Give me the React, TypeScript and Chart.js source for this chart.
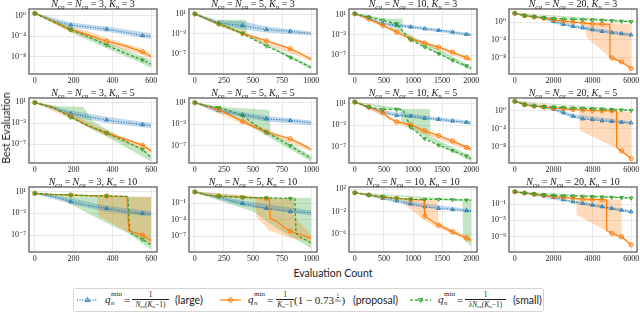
import React, { useEffect, useRef } from 'react';
import { Chart, registerables } from 'chart.js';
Chart.register(...registerables);

// Mean curves: [evaluation count, log10(best evaluation)]
// Bands: [evaluation count, log10(lower), log10(upper)]
type Pt = [number, number];
type Bd = [number, number, number];

const N_VALUES = [3, 5, 10, 20];
const K_VALUES = [3, 5, 10];
const X_MAX = [600, 1000, 2000, 6000];
const X_TICKS = [[0, 200, 400, 600], [0, 250, 500, 750, 1000], [0, 500, 1000, 1500, 2000], [0, 2000, 4000, 6000]];
const MARK_EVERY = [185, 205, 240, 500];
const Y_RANGE = [
  [[-11.3, 1.3], [-11.2, 2.1], [-10.7, 2.08], [-11.75, 2.97]],
  [[-10.6, 1.77], [-10.2, 1.86], [-10.0, 2.05], [-11.55, 2.73]],
  [[-10.1, 1.83], [-9.9, 2.0], [-9.2, 2.43], [-12.75, 3.17]],
];
const Y_TICKS = [
  [[0, -4, -8], [1, -3, -7], [1, -3, -7], [0, -4, -8]],
  [[1, -3, -7], [1, -3, -7], [1, -3, -7], [0, -4, -8]],
  [[1, -3, -7], [-1, -4, -7], [2, -2, -6], [-1, -5, -9]],
];

// ---------- K = 3 ----------
const n3k3Blue: Pt[] = [[0, 0.45], [92, -0.9], [185, -1.8], [277, -2.2], [370, -2.6], [462, -3.2], [555, -3.85], [600, -4.0]];
const n3k3Orange: Pt[] = [[0, 0.45], [92, -1.0], [185, -2.7], [277, -3.7], [370, -4.95], [462, -5.8], [555, -7.0], [600, -7.9]];
const n3k3Green: Pt[] = [[0, 0.45], [92, -1.1], [185, -2.7], [277, -4.1], [370, -5.7], [462, -7.2], [555, -8.6], [600, -9.4]];
const n3k3BlueBand: Bd[] = [[0, 0.35, 0.55], [185, -2.3, -1.3], [370, -3.1, -2.1], [600, -4.5, -3.4]];
const n3k3OrangeBand: Bd[] = [[0, 0.35, 0.55], [185, -3.2, -2.2], [277, -4.4, -3.0], [370, -5.5, -4.3], [555, -7.6, -6.4], [600, -8.5, -7.3]];
const n3k3GreenBand: Bd[] = [[0, 0.35, 0.55], [185, -3.2, -2.2], [370, -6.3, -5.1], [555, -9.3, -7.9], [600, -10.2, -8.7]];

const n5k3Blue: Pt[] = [[0, 1.1], [100, 0.2], [205, -0.75], [310, -1.05], [410, -1.3], [510, -1.7], [615, -2.1], [720, -2.3], [820, -2.45], [910, -2.7], [1000, -2.9]];
const n5k3Orange: Pt[] = [[0, 1.1], [100, 0.1], [205, -0.95], [310, -1.9], [410, -2.9], [510, -3.6], [615, -4.4], [720, -5.2], [820, -6.0], [910, -7.0], [1000, -8.2]];
const n5k3Green: Pt[] = [[0, 1.1], [100, 0.1], [205, -0.9], [310, -1.9], [410, -2.9], [510, -4.2], [615, -5.5], [720, -6.6], [820, -7.8], [910, -8.8], [1000, -9.9]];
const n5k3BlueBand: Bd[] = [[0, 0.9, 1.3], [205, -1.3, -0.2], [410, -2.0, -0.4], [615, -2.7, -1.5], [1000, -3.3, -2.5]];
const n5k3OrangeBand: Bd[] = [[0, 0.9, 1.3], [410, -3.2, -2.6], [1000, -8.6, -7.8]];
const n5k3GreenBand: Bd[] = [[0, 0.9, 1.3], [195, -1.2, -0.6], [205, -1.5, -0.1], [440, -3.3, -0.1], [450, -3.4, -2.9], [1000, -10.3, -9.5]];

const n10k3Blue: Pt[] = [[0, 1.15], [240, 0.35], [480, -0.8], [720, -1.1], [960, -1.45], [1200, -1.8], [1440, -2.1], [1680, -2.45], [1920, -2.9], [2000, -3.0]];
const n10k3Orange: Pt[] = [[0, 1.15], [240, 0.15], [480, -1.15], [720, -2.5], [960, -3.8], [1200, -4.6], [1440, -5.4], [1680, -6.4], [1920, -7.5], [2000, -7.9]];
const n10k3Green: Pt[] = [[0, 1.15], [240, 0.5], [480, -0.2], [720, -0.8], [830, -2.4], [960, -4.0], [1200, -5.4], [1440, -6.7], [1680, -8.0], [1920, -9.1], [2000, -9.6]];
const n10k3BlueBand: Bd[] = [[0, 1.0, 1.3], [480, -1.1, -0.5], [1000, -1.8, -1.1], [2000, -3.3, -2.7]];
const n10k3OrangeBand: Bd[] = [[0, 1.0, 1.3], [480, -1.4, -0.9], [1000, -4.2, -3.6], [2000, -8.3, -7.5]];
const n10k3GreenBand: Bd[] = [[0, 1.0, 1.3], [590, -0.5, 0.1], [600, -2.0, 0.2], [820, -2.9, 0.2], [830, -3.3, -2.3], [2000, -10.0, -9.2]];

const n20k3Green: Pt[] = [[0, 2.0], [500, 1.45], [1000, 1.2], [1500, 1.0], [2000, 0.8], [2500, 0.7], [3000, 0.65], [3500, 0.55], [4000, 0.5], [4500, 0.4], [5000, 0.3], [5500, 0.2], [6000, 0.1]];
const n20k3Blue: Pt[] = [[0, 2.0], [500, 1.45], [1000, 1.2], [1500, 0.9], [2000, 0.15], [2500, -0.5], [3000, -1.0], [3500, -1.3], [4000, -1.7], [4500, -2.1], [5000, -2.4], [5500, -2.6], [6000, -2.9]];
const n20k3Orange: Pt[] = [[0, 2.0], [500, 1.45], [1000, 1.15], [1500, 0.9], [2000, 0.5], [2500, 0.2], [3000, 0.0], [3500, -0.2], [4000, -0.4], [4500, -0.45], [4900, -0.5], [4910, -7.9], [5000, -8.1], [5500, -9.0], [6000, -10.5]];
const n20k3BlueBand: Bd[] = [[0, 1.9, 2.1], [1500, 0.7, 1.1], [2000, -0.3, 0.5], [4000, -2.1, -1.3], [6000, -3.3, -2.5]];
const n20k3OrangeBand: Bd[] = [[0, 1.9, 2.1], [3600, -0.4, 0.0], [3700, -3.4, 0.0], [4900, -8.0, -0.2], [6000, -10.6, -0.4]];
const n20k3GreenBand: Bd[] = [[0, 1.9, 2.1], [6000, -0.1, 0.3]];

// ---------- K = 5 ----------
const n3k5Blue: Pt[] = [[0, 0.9], [92, 0.0], [185, -1.2], [277, -1.8], [370, -2.4], [462, -2.9], [555, -3.3], [600, -3.5]];
const n3k5Orange: Pt[] = [[0, 0.9], [92, 0.0], [185, -1.7], [277, -3.6], [370, -4.9], [462, -6.0], [555, -7.2], [600, -8.3]];
const n3k5Green: Pt[] = [[0, 0.9], [92, 0.0], [185, -1.9], [277, -3.5], [370, -4.9], [462, -6.4], [555, -8.0], [600, -9.6]];
const n3k5BlueBand: Bd[] = [[0, 0.8, 1.0], [185, -1.7, -0.6], [370, -3.0, -1.8], [600, -4.0, -3.0]];
const n3k5OrangeBand: Bd[] = [[0, 0.8, 1.0], [185, -2.2, -1.3], [370, -5.4, -4.4], [600, -8.8, -7.8]];
const n3k5GreenBand: Bd[] = [[0, 0.8, 1.0], [130, -0.6, 0.2], [250, -3.3, 0.1], [300, -4.3, -2.6], [370, -5.6, -4.2], [600, -10.3, -9.0]];

const n5k5Blue: Pt[] = [[0, 1.0], [100, 0.3], [205, -0.45], [310, -0.9], [410, -1.25], [510, -1.6], [615, -2.0], [720, -2.15], [820, -2.3], [910, -2.5], [1000, -2.75]];
const n5k5Orange: Pt[] = [[0, 1.0], [100, 0.4], [205, -0.25], [310, -1.4], [410, -2.5], [510, -3.5], [615, -4.5], [720, -5.1], [820, -5.7], [910, -6.6], [1000, -7.7]];
const n5k5Green: Pt[] = [[0, 1.0], [100, 0.4], [205, 0.1], [310, -0.6], [410, -1.4], [510, -3.0], [615, -4.5], [720, -5.8], [820, -7.0], [910, -8.2], [1000, -9.35]];
const n5k5BlueBand: Bd[] = [[0, 0.9, 1.1], [205, -0.9, 0.0], [615, -2.5, -1.5], [1000, -3.2, -2.3]];
const n5k5OrangeBand: Bd[] = [[0, 0.9, 1.1], [410, -2.9, -2.1], [1000, -8.1, -7.3]];
const n5k5GreenBand: Bd[] = [[0, 0.9, 1.1], [205, -0.2, 0.3], [360, -2.0, 0.0], [640, -5.4, -0.3], [650, -5.6, -4.4], [1000, -9.9, -8.8]];

const n10k5Blue: Pt[] = [[0, 1.3], [240, 0.37], [480, -0.57], [720, -1.2], [960, -1.3], [1200, -1.7], [1440, -1.9], [1680, -2.2], [1920, -2.45], [2000, -2.6]];
const n10k5Orange: Pt[] = [[0, 1.3], [240, 0.37], [480, -0.6], [600, -1.7], [720, -2.4], [960, -2.9], [1200, -4.0], [1440, -4.9], [1680, -5.9], [1920, -7.1], [2000, -7.5]];
const n10k5Green: Pt[] = [[0, 1.3], [240, 0.37], [480, -0.07], [720, -0.07], [830, -0.1], [960, -3.4], [1200, -5.5], [1440, -6.7], [1680, -7.7], [1920, -8.7], [2000, -9.2]];
const n10k5BlueBand: Bd[] = [[0, 1.2, 1.4], [480, -1.0, -0.2], [1000, -1.7, -0.9], [2000, -2.9, -2.2]];
const n10k5OrangeBand: Bd[] = [[0, 1.2, 1.4], [720, -2.7, -2.0], [2000, -7.9, -7.1]];
const n10k5GreenBand: Bd[] = [[0, 1.2, 1.4], [790, -0.4, 0.2], [800, -2.5, 0.0], [1290, -5.8, 0.0], [1300, -5.9, -5.1], [2000, -9.7, -8.7]];

const n20k5Green: Pt[] = [[0, 2.0], [500, 1.26], [1000, 0.96], [1500, 0.85], [2000, 0.74], [2500, 0.63], [3000, 0.52], [3500, 0.45], [4000, 0.37], [4500, 0.28], [5000, 0.2], [5500, 0.1], [6000, 0.0]];
const n20k5Blue: Pt[] = [[0, 2.0], [500, 1.26], [1000, 0.96], [1500, 0.7], [2000, 0.3], [2500, -0.5], [3000, -1.26], [3500, -1.85], [4000, -2.0], [4500, -2.3], [5000, -2.44], [5500, -2.6], [6000, -2.73]];
const n20k5Orange: Pt[] = [[0, 2.0], [500, 1.26], [1000, 0.96], [1500, 0.75], [2000, 0.52], [2500, 0.35], [3000, 0.2], [3500, 0.1], [4000, 0.0], [4500, -0.05], [5000, -0.1], [5240, -0.15], [5250, -8.15], [5500, -8.9], [6000, -10.6]];
const n20k5BlueBand: Bd[] = [[0, 1.9, 2.1], [2000, 0.0, 0.6], [3000, -1.7, -0.8], [6000, -3.1, -2.4]];
const n20k5OrangeBand: Bd[] = [[0, 1.9, 2.1], [3300, 0.0, 0.3], [3360, -4.45, 0.0], [5250, -8.3, -0.2], [6000, -10.7, -0.3]];
const n20k5GreenBand: Bd[] = [[0, 1.9, 2.1], [6000, -0.15, 0.15]];

// ---------- K = 10 ----------
const n3k10Blue: Pt[] = [[0, 0.67], [92, 0.1], [185, -0.87], [277, -1.6], [370, -2.1], [462, -2.7], [555, -3.0], [600, -3.1]];
const n3k10Orange: Pt[] = [[0, 0.67], [92, 0.45], [185, 0.36], [277, 0.25], [370, 0.17], [462, 0.1], [475, 0.05], [485, -6.2], [555, -7.0], [600, -8.0]];
const n3k10Green: Pt[] = [[0, 0.67], [92, 0.45], [185, 0.36], [277, 0.25], [370, 0.17], [462, 0.1], [480, 0.05], [490, -6.5], [555, -7.8], [600, -8.8]];
const n3k10BlueBand: Bd[] = [[0, 0.6, 0.75], [185, -1.3, -0.2], [370, -2.7, -1.6], [600, -3.6, -2.6]];
const n3k10OrangeBand: Bd[] = [[0, 0.6, 0.75], [320, 0.0, 0.3], [330, -3.5, 0.1], [480, -6.5, 0.0], [600, -8.6, 0.0]];
const n3k10GreenBand: Bd[] = [[0, 0.6, 0.75], [150, -0.5, 0.5], [200, -1.6, 0.4], [370, -4.8, 0.2], [480, -6.6, 0.1], [600, -9.7, 0.0]];

const n5k10Blue: Pt[] = [[0, 1.1], [100, 0.6], [205, 0.2], [310, -0.5], [410, -1.0], [510, -1.5], [615, -1.9], [720, -2.2], [820, -2.5], [910, -2.6], [1000, -2.7]];
const n5k10Orange: Pt[] = [[0, 1.1], [100, 0.5], [205, 0.34], [310, 0.25], [410, 0.1], [510, 0.0], [615, -0.1], [640, -0.15], [650, -3.75], [720, -4.5], [760, -5.3], [820, -6.1], [910, -6.7], [1000, -7.4]];
const n5k10Green: Pt[] = [[0, 1.1], [100, 0.5], [205, 0.34], [310, 0.2], [410, 0.1], [510, 0.05], [615, 0.0], [720, -0.05], [820, -0.1], [860, -0.15], [870, -6.5], [910, -7.2], [1000, -8.3]];
const n5k10BlueBand: Bd[] = [[0, 1.0, 1.2], [410, -1.5, -0.5], [1000, -3.2, -2.3]];
const n5k10OrangeBand: Bd[] = [[0, 1.0, 1.2], [520, 0.0, 0.3], [530, -3.5, 0.1], [640, -6.0, 0.0], [850, -7.5, 0.0], [860, -7.5, -3.6], [1000, -8.0, -6.8]];
const n5k10GreenBand: Bd[] = [[0, 1.0, 1.2], [500, -2.5, 0.2], [700, -5.5, 0.1], [1000, -9.2, 0.0]];

const n10k10Green: Pt[] = [[0, 1.4], [240, 1.0], [480, 0.7], [720, 0.4], [960, 0.2], [1200, 0.2], [1440, 0.2], [1680, 0.15], [1920, 0.1], [2000, 0.1]];
const n10k10Blue: Pt[] = [[0, 1.4], [240, 1.0], [480, 0.4], [720, -0.03], [960, -0.6], [1200, -1.1], [1440, -1.4], [1680, -1.6], [1920, -1.8], [2000, -1.85]];
const n10k10Orange: Pt[] = [[0, 1.4], [240, 1.0], [480, 0.6], [720, 0.4], [960, 0.2], [1190, 0.1], [1200, -2.8], [1440, -4.4], [1680, -5.6], [1920, -6.7], [2000, -7.1]];
const n10k10BlueBand: Bd[] = [[0, 1.3, 1.5], [720, -0.4, 0.3], [1000, -1.0, -0.2], [2000, -2.1, -1.6]];
const n10k10OrangeBand: Bd[] = [[0, 1.3, 1.5], [820, 0.3, 0.5], [830, -0.5, 0.4], [1200, -3.5, 0.2], [1430, -5.0, 0.2], [1440, -4.8, -4.0], [2000, -7.5, -6.7]];
const n10k10GreenBand: Bd[] = [[0, 1.3, 1.5], [1850, -0.1, 0.25], [1860, -6.9, 0.2], [2000, -8.2, 0.2]];

const n20k10Green: Pt[] = [[0, 2.0], [500, 1.7], [1000, 1.45], [1500, 1.25], [2000, 1.1], [2500, 1.0], [3000, 0.96], [3500, 0.88], [4000, 0.8], [4500, 0.72], [5000, 0.64], [5500, 0.55], [6000, 0.47]];
const n20k10Blue: Pt[] = [[0, 2.0], [500, 1.7], [1000, 1.4], [1500, 1.1], [2000, 0.64], [2500, 0.1], [3000, -0.44], [3500, -0.85], [4000, -1.25], [4500, -1.65], [5000, -2.06], [5500, -2.5], [6000, -2.9]];
const n20k10Orange: Pt[] = [[0, 2.0], [500, 1.7], [1000, 1.4], [1500, 1.1], [2000, 0.8], [2500, 0.6], [3000, 0.4], [3500, 0.25], [4000, 0.15], [4500, 0.05], [4730, 0.0], [4740, -7.5], [5000, -8.2], [5500, -9.0], [6000, -11.0]];
const n20k10BlueBand: Bd[] = [[0, 1.9, 2.1], [3000, -0.8, -0.1], [6000, -3.3, -2.5]];
const n20k10OrangeBand: Bd[] = [[0, 1.9, 2.1], [3180, 0.3, 0.5], [3190, -3.7, 0.3], [4740, -7.6, 0.1], [5500, -9.8, 0.1], [5510, -9.4, -8.6], [6000, -11.3, -10.6]];
const n20k10GreenBand: Bd[] = [[0, 1.9, 2.1], [6000, 0.3, 0.65]];

const PANELS = [
  [
    [n3k3Blue, n3k3Orange, n3k3Green, n3k3BlueBand, n3k3OrangeBand, n3k3GreenBand],
    [n5k3Blue, n5k3Orange, n5k3Green, n5k3BlueBand, n5k3OrangeBand, n5k3GreenBand],
    [n10k3Blue, n10k3Orange, n10k3Green, n10k3BlueBand, n10k3OrangeBand, n10k3GreenBand],
    [n20k3Blue, n20k3Orange, n20k3Green, n20k3BlueBand, n20k3OrangeBand, n20k3GreenBand],
  ],
  [
    [n3k5Blue, n3k5Orange, n3k5Green, n3k5BlueBand, n3k5OrangeBand, n3k5GreenBand],
    [n5k5Blue, n5k5Orange, n5k5Green, n5k5BlueBand, n5k5OrangeBand, n5k5GreenBand],
    [n10k5Blue, n10k5Orange, n10k5Green, n10k5BlueBand, n10k5OrangeBand, n10k5GreenBand],
    [n20k5Blue, n20k5Orange, n20k5Green, n20k5BlueBand, n20k5OrangeBand, n20k5GreenBand],
  ],
  [
    [n3k10Blue, n3k10Orange, n3k10Green, n3k10BlueBand, n3k10OrangeBand, n3k10GreenBand],
    [n5k10Blue, n5k10Orange, n5k10Green, n5k10BlueBand, n5k10OrangeBand, n5k10GreenBand],
    [n10k10Blue, n10k10Orange, n10k10Green, n10k10BlueBand, n10k10OrangeBand, n10k10GreenBand],
    [n20k10Blue, n20k10Orange, n20k10Green, n20k10BlueBand, n20k10OrangeBand, n20k10GreenBand],
  ],
];

// ---------- styles ----------
const BLUE = [31, 119, 180];
const ORANGE = [255, 127, 14];
const GREEN = [44, 160, 44];
const rgba = (c: number[], a: number) => `rgba(${c[0]},${c[1]},${c[2]},${a})`;
const MATH = '"Liberation Serif", "DejaVu Serif", serif';
const SANS = 'Lato, "DejaVu Sans", sans-serif';
const TXT = '#222';

const COL_LEFT = [29, 189, 349, 509];
const ROW_TOP = [9, 98, 187];
const PLOT_W = 128;
const PLOT_H = 65;
const AXIS_W = 28;
const AXIS_H = 14;
const PAD_TOP = 9;
const PAD_RIGHT = 4;

const SUP: Record<string, string> = { '0': '⁰', '1': '¹', '2': '²', '3': '³', '4': '⁴', '5': '⁵', '6': '⁶', '7': '⁷', '8': '⁸', '9': '⁹', '-': '⁻' };
const supStr = (n: number) => String(n).split('').map((c) => SUP[c]).join('');

const framePlugin = {
  id: 'frame',
  afterDraw(chart: any) {
    const { ctx, chartArea: a } = chart;
    ctx.save();
    ctx.strokeStyle = '#5e5e5e';
    ctx.lineWidth = 1.3;
    ctx.strokeRect(a.left, a.top, a.right - a.left, a.bottom - a.top);
    ctx.restore();
  },
};

function makeTitlePlugin(nco: number, kn: number) {
  return {
    id: 'panelTitle',
    afterDraw(chart: any) {
      const { ctx, chartArea: a } = chart;
      const segs: [string, string][] = [
        ['N', 'i'], ['co', 's'], [' = ', 'r'], ['N', 'i'], ['ca', 's'], [` = ${nco}, `, 'r'],
        ['K', 'i'], ['n', 's'], [` = ${kn}`, 'r'],
      ];
      const font = (k: string) =>
        k === 'i' ? `italic 10px ${MATH}` : k === 's' ? `italic 7px ${MATH}` : `10px ${MATH}`;
      ctx.save();
      let total = 0;
      const widths = segs.map(([t, k]) => {
        ctx.font = font(k);
        const w = ctx.measureText(t).width;
        total += w;
        return w;
      });
      let x = (a.left + a.right) / 2 - total / 2;
      const y = a.top - 2;
      ctx.fillStyle = TXT;
      ctx.textAlign = 'left';
      ctx.textBaseline = 'alphabetic';
      segs.forEach(([t, k], i) => {
        ctx.font = font(k);
        ctx.fillText(t, x, k === 's' ? y + 2 : y);
        x += widths[i];
      });
      ctx.restore();
    },
  };
}

function Panel({ row, col }: { row: number; col: number }) {
  const ref = useRef<HTMLCanvasElement | null>(null);
  useEffect(() => {
    if (!ref.current) return;
    const [blue, orange, green, blueBand, orangeBand, greenBand] = PANELS[row][col] as any[];
    const xmax = X_MAX[col];
    const step = MARK_EVERY[col];
    const toData = (pts: Pt[]) => pts.map(([x, e]) => ({ x, y: Math.pow(10, e) }));
    const radius = (c: any) => (c.raw && c.raw.x % step === 0 ? 2.2 : 0);
    const line = (pts: Pt[], color: number[], style: string, rot: number, dash: number[]) => ({
      data: toData(pts),
      borderColor: rgba(color, 1),
      borderWidth: 1.25,
      borderDash: dash,
      pointStyle: style,
      pointRotation: rot,
      pointRadius: radius,
      pointHoverRadius: 0,
      pointBackgroundColor: rgba(color, 0.3),
      pointBorderColor: rgba(color, 1),
      pointBorderWidth: 0.85,
      fill: false,
    });
    const band = (b: Bd[], color: number[]) => [
      { data: b.map(([x, lo]) => ({ x, y: Math.pow(10, lo) })), borderColor: 'transparent', borderWidth: 0, pointRadius: 0, fill: false },
      { data: b.map(([x, , hi]) => ({ x, y: Math.pow(10, hi) })), borderColor: 'transparent', borderWidth: 0, pointRadius: 0, fill: '-1', backgroundColor: rgba(color, 0.28) },
    ];
    const datasets: any[] = [
      line(green, GREEN, 'triangle', 180, [3, 2]),
      line(orange, ORANGE, 'circle', 0, []),
      line(blue, BLUE, 'triangle', 0, [1, 1.6]),
      ...band(blueBand, BLUE),
      ...band(orangeBand, ORANGE),
      ...band(greenBand, GREEN),
    ];
    const [ymin, ymax] = Y_RANGE[row][col];
    const yt = Y_TICKS[row][col];
    const tickFont = { family: MATH, size: 8 };
    const grid = { color: '#e4e4e4', lineWidth: 0.8, drawTicks: false };
    const chart = new Chart(ref.current, {
      type: 'line',
      data: { datasets },
      options: {
        animation: false,
        responsive: false,
        events: [],
        layout: { padding: { top: PAD_TOP, right: PAD_RIGHT, left: 0, bottom: 0 } },
        plugins: { legend: { display: false }, tooltip: { enabled: false } },
        scales: {
          x: {
            type: 'linear',
            min: -0.05 * xmax,
            max: 1.05 * xmax,
            afterBuildTicks: (s: any) => { s.ticks = X_TICKS[col].map((v) => ({ value: v })); },
            afterFit: (s: any) => { s.height = AXIS_H; s.paddingLeft = 0; s.paddingRight = 0; },
            ticks: { font: tickFont, color: TXT, padding: 2, maxRotation: 0, autoSkip: false, callback: (v: any) => String(v) },
            grid,
            border: { display: false },
          },
          y: {
            type: 'logarithmic',
            min: Math.pow(10, ymin),
            max: Math.pow(10, ymax),
            afterBuildTicks: (s: any) => { s.ticks = yt.map((e) => ({ value: Math.pow(10, e) })); },
            afterFit: (s: any) => { s.width = AXIS_W; s.paddingTop = 0; s.paddingBottom = 0; },
            ticks: { font: tickFont, color: TXT, padding: 3, autoSkip: false, callback: (v: any) => '10' + supStr(Math.round(Math.log10(v))) },
            grid,
            border: { display: false },
          },
        },
      } as any,
      plugins: [framePlugin, makeTitlePlugin(N_VALUES[col], K_VALUES[row])],
    });
    return () => chart.destroy();
  }, [row, col]);
  return (
    <canvas
      ref={ref}
      width={AXIS_W + PLOT_W + PAD_RIGHT}
      height={PAD_TOP + PLOT_H + AXIS_H}
      style={{ position: 'absolute', left: COL_LEFT[col] - AXIS_W, top: ROW_TOP[row] - PAD_TOP }}
    />
  );
}

const abs = (left: number, top: number, extra: any = {}) => ({ position: 'absolute' as const, left, top, lineHeight: 1, whiteSpace: 'nowrap' as const, color: TXT, ...extra });

function Q({ left }: { left: number }) {
  return (
    <div style={abs(left, 290, { fontFamily: MATH })}>
      <span style={abs(0, 4, { fontSize: 11, fontStyle: 'italic' })}>q</span>
      <span style={abs(6, 0.5, { fontSize: 7 })}>min</span>
      <span style={abs(6, 9.5, { fontSize: 7, fontStyle: 'italic' })}>n</span>
    </div>
  );
}

const Sub = ({ children }: any) => <span style={{ fontSize: 5, position: 'relative', top: 1.5 }}>{children}</span>;

function Frac({ left, width, num, den }: any) {
  return (
    <div style={abs(left, 290.5, { width, fontFamily: MATH, fontSize: 7.5, textAlign: 'center' })}>
      <div style={{ height: 8, borderBottom: '0.8px solid #222', lineHeight: '8px' }}>{num}</div>
      <div style={{ lineHeight: '9px' }}>{den}</div>
    </div>
  );
}

function Sample({ left, color, dash, marker }: any) {
  const c = rgba(color, 1);
  const f = rgba(color, 0.3);
  return (
    <svg style={{ position: 'absolute', left, top: 294 }} width={21} height={12}>
      <line x1={0} y1={6} x2={21} y2={6} stroke={c} strokeWidth={1.25} strokeDasharray={dash} />
      {marker === 'up' && <polygon points="10.5,3.4 12.9,7.6 8.1,7.6" fill={f} stroke={c} strokeWidth={0.85} />}
      {marker === 'down' && <polygon points="10.5,8.6 12.9,4.4 8.1,4.4" fill={f} stroke={c} strokeWidth={0.85} />}
      {marker === 'circle' && <circle cx={10.5} cy={6} r={2.2} fill={f} stroke={c} strokeWidth={0.85} />}
    </svg>
  );
}

function Legend() {
  const eq = (left: number) => <span style={abs(left, 295, { fontFamily: MATH, fontSize: 11 })}>=</span>;
  const label = (left: number, t: string) => <span style={abs(left, 295, { fontFamily: SANS, fontSize: 10.5 })}>{t}</span>;
  return (
    <div>
      <div style={{ position: 'absolute', left: 73, top: 288, width: 471, height: 24, border: '1px solid #d4d4d4', borderRadius: 3, boxSizing: 'border-box', background: '#fff' }} />
      <Sample left={77} color={BLUE} dash="1 1.6" marker="up" />
      <Q left={105} />
      {eq(124)}
      <Frac left={132} width={37} num="1" den={<><i>N</i><Sub>ca</Sub>(<i>K</i><Sub>n</Sub>−1)</>} />
      {label(175, '(large)')}

      <Sample left={220} color={ORANGE} dash="" marker="circle" />
      <Q left={248} />
      {eq(267)}
      <Frac left={276} width={18} num="1" den={<><i>K</i><Sub>n</Sub>−1</>} />
      <div style={abs(294, 295, { fontFamily: MATH, fontSize: 11, display: 'flex', alignItems: 'flex-start' })}>
        <span>(1 − 0.73</span>
        <span style={{ display: 'inline-flex', flexDirection: 'column', alignItems: 'center', fontSize: 5, marginTop: -3, marginLeft: 0.5, marginRight: 0.5 }}>
          <span style={{ borderBottom: '0.6px solid #222', lineHeight: '5px' }}>1</span>
          <span style={{ lineHeight: '6px' }}><i>N</i><span style={{ fontSize: 3.5 }}>ca</span></span>
        </span>
        <span>)</span>
      </div>
      {label(353, '(proposal)')}

      <Sample left={410} color={GREEN} dash="3 2" marker="down" />
      <Q left={438} />
      {eq(457)}
      <Frac left={465} width={41} num="1" den={<>λ<i>N</i><Sub>ca</Sub>(<i>K</i><Sub>n</Sub>−1)</>} />
      {label(513, '(small)')}
    </div>
  );
}

export default function App() {
  const cells: JSX.Element[] = [];
  for (let r = 0; r < 3; r++) for (let c = 0; c < 4; c++) cells.push(<Panel key={`${r}-${c}`} row={r} col={c} />);
  return (
    <div style={{ position: 'fixed', left: 0, top: 0, width: 640, height: 315, background: '#fff', overflow: 'hidden' }}>
      {cells}
      <div style={{ position: 'absolute', left: 6, top: 128, transform: 'translate(-50%, -50%) rotate(-90deg)', fontFamily: SANS, fontSize: 10.5, color: TXT, whiteSpace: 'nowrap' }}>
        Best Evaluation
      </div>
      <div style={{ position: 'absolute', left: 333, top: 273, transform: 'translate(-50%, -50%)', fontFamily: SANS, fontSize: 10.5, color: TXT, whiteSpace: 'nowrap' }}>
        Evaluation Count
      </div>
      <Legend />
    </div>
  );
}
